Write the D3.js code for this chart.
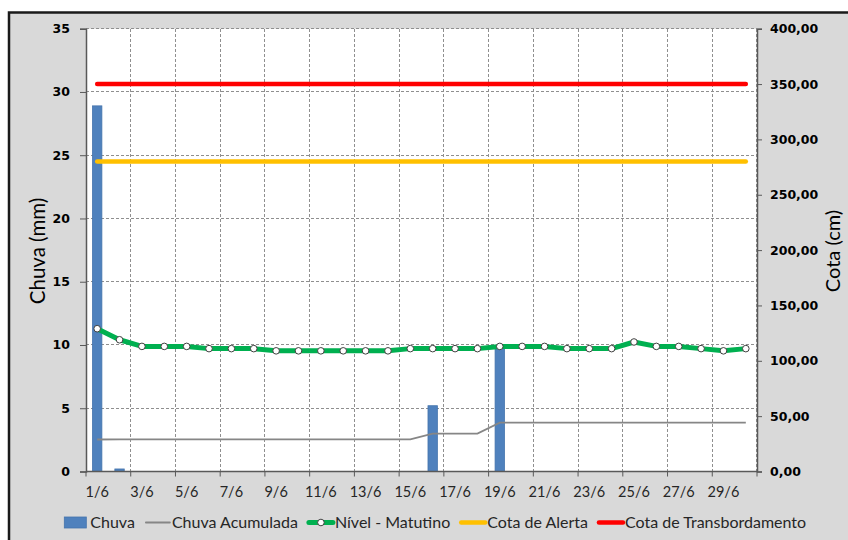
<!DOCTYPE html>
<html>
<head>
<meta charset="utf-8">
<script src="https://cdn.jsdelivr.net/npm/d3@7"></script>
<style>
  html, body { margin: 0; padding: 0; background: #fff; }
  svg { display: block; }
</style>
</head>
<body>
<svg id="chart" width="848" height="540"></svg>
<script>
// Daily rainfall and river level, June
const dias = ["1/6","2/6","3/6","4/6","5/6","6/6","7/6","8/6","9/6","10/6",
              "11/6","12/6","13/6","14/6","15/6","16/6","17/6","18/6","19/6","20/6",
              "21/6","22/6","23/6","24/6","25/6","26/6","27/6","28/6","29/6","30/6"];

const chuva = [28.9, 0.2, 0, 0, 0, 0, 0, 0, 0, 0,
               0, 0, 0, 0, 0, 5.2, 0, 0, 9.9, 0,
               0, 0, 0, 0, 0, 0, 0, 0, 0, 0];

const chuvaAcumulada = [28.9, 29.1, 29.1, 29.1, 29.1, 29.1, 29.1, 29.1, 29.1, 29.1,
                        29.1, 29.1, 29.1, 29.1, 29.1, 34.3, 34.3, 34.3, 44.2, 44.2,
                        44.2, 44.2, 44.2, 44.2, 44.2, 44.2, 44.2, 44.2, 44.2, 44.2];

const nivelMatutino = [129, 119, 113, 113, 113, 111, 111, 111, 109, 109,
                       109, 109, 109, 109, 111, 111, 111, 111, 113, 113,
                       113, 111, 111, 111, 117, 113, 113, 111, 109, 111];

const cotaAlerta = [280, 280, 280, 280, 280, 280, 280, 280, 280, 280,
                    280, 280, 280, 280, 280, 280, 280, 280, 280, 280,
                    280, 280, 280, 280, 280, 280, 280, 280, 280, 280];

const cotaTransbordamento = [350, 350, 350, 350, 350, 350, 350, 350, 350, 350,
                             350, 350, 350, 350, 350, 350, 350, 350, 350, 350,
                             350, 350, 350, 350, 350, 350, 350, 350, 350, 350];

const ticksChuva = [0, 5, 10, 15, 20, 25, 30, 35];
const ticksCota = [0, 50, 100, 150, 200, 250, 300, 350, 400];

const svg = d3.select("#chart");
const W = 848, H = 540;
const plot = { left: 86, right: 757, top: 28.7, bottom: 471.5 };

const labelFont = "Lato, 'Open Sans', sans-serif";
const tickFont = "'DejaVu Sans', Verdana, sans-serif";

// Chart area background and frame
svg.append("rect").attr("x", 0).attr("y", 0).attr("width", W).attr("height", H).attr("fill", "#fff");
svg.append("rect")
  .attr("x", 9).attr("y", 12.5).attr("width", W + 10).attr("height", H + 10)
  .attr("fill", "#d9d9d9").attr("stroke", "#1a1a1a").attr("stroke-width", 2.5);

// Scales
const x = d3.scaleBand().domain(dias).range([plot.left, plot.right]).paddingInner(0).paddingOuter(0);
const yChuva = d3.scaleLinear().domain([0, 35]).range([plot.bottom, plot.top]);
const yCota = d3.scaleLinear().domain([0, 400]).range([plot.bottom, plot.top]);
const cx = d => x(d) + x.bandwidth() / 2;

// Plot area
svg.append("rect")
  .attr("x", plot.left).attr("y", plot.top)
  .attr("width", plot.right - plot.left).attr("height", plot.bottom - plot.top)
  .attr("fill", "#fff");

// Gridlines
const grid = svg.append("g").attr("stroke", "#8f8f8f").attr("stroke-width", 1)
  .attr("stroke-dasharray", "3,2").attr("shape-rendering", "crispEdges");
grid.selectAll("line.h").data(ticksChuva.filter(t => t > 0)).join("line")
  .attr("class", "h")
  .attr("x1", plot.left).attr("x2", plot.right)
  .attr("y1", d => yChuva(d)).attr("y2", d => yChuva(d));
const vTicks = dias.filter((d, i) => i % 2 === 0 && i > 0);
grid.selectAll("line.v").data(vTicks).join("line")
  .attr("class", "v")
  .attr("x1", d => x(d)).attr("x2", d => x(d))
  .attr("y1", plot.top).attr("y2", plot.bottom);
grid.append("line").attr("x1", plot.right - 1).attr("x2", plot.right - 1)
  .attr("y1", plot.top).attr("y2", plot.bottom);

// Rain bars
const barW = 9.4;
svg.append("g").selectAll("rect").data(dias.map((d, i) => ({ d, v: chuva[i] })).filter(e => e.v > 0))
  .join("rect")
  .attr("x", e => cx(e.d) - barW / 2)
  .attr("y", e => yChuva(e.v))
  .attr("width", barW)
  .attr("height", e => yChuva(0) - yChuva(e.v))
  .attr("fill", "#4f81bd")
  .attr("stroke", "#4574ad").attr("stroke-width", 0.8);

// Lines on the cota (cm) axis
const lineCota = vals => d3.line().x((v, i) => cx(dias[i])).y(v => yCota(v))(vals);

svg.append("path").attr("d", lineCota(chuvaAcumulada))
  .attr("fill", "none").attr("stroke", "#868686").attr("stroke-width", 1.8);

svg.append("path").attr("d", lineCota(cotaAlerta))
  .attr("fill", "none").attr("stroke", "#ffc000").attr("stroke-width", 4.5).attr("stroke-linecap", "round");

svg.append("path").attr("d", lineCota(cotaTransbordamento))
  .attr("fill", "none").attr("stroke", "#ff0000").attr("stroke-width", 4.5).attr("stroke-linecap", "round");

svg.append("path").attr("d", lineCota(nivelMatutino))
  .attr("fill", "none").attr("stroke", "#00b050").attr("stroke-width", 5)
  .attr("stroke-linejoin", "round");

svg.append("g").selectAll("circle").data(nivelMatutino).join("circle")
  .attr("cx", (v, i) => cx(dias[i])).attr("cy", v => yCota(v)).attr("r", 3.3)
  .attr("fill", "#fff").attr("stroke", "#404040").attr("stroke-width", 1);

// Left axis (Chuva)
const axisLeft = svg.append("g").attr("transform", `translate(${plot.left},0)`)
  .call(d3.axisLeft(yChuva).tickValues(ticksChuva).tickSize(6).tickPadding(10).tickFormat(d3.format("d")));
axisLeft.select(".domain").attr("stroke", "#595959").attr("stroke-width", 1.5);
axisLeft.selectAll(".tick line").attr("stroke", "#595959");
axisLeft.selectAll(".tick text").attr("font-family", tickFont).attr("font-weight", "bold")
  .attr("font-size", 12.5).attr("fill", "#000");

// Right axis (Cota)
const fmtCota = v => d3.format(".2f")(v).replace(".", ",");
const axisRight = svg.append("g").attr("transform", `translate(${plot.right},0)`)
  .call(d3.axisRight(yCota).tickValues(ticksCota).tickSize(5).tickPadding(8).tickFormat(fmtCota));
axisRight.select(".domain").attr("stroke", "#595959").attr("stroke-width", 1.5);
axisRight.selectAll(".tick line").attr("stroke", "#595959");
axisRight.selectAll(".tick text").attr("font-family", tickFont).attr("font-weight", "bold")
  .attr("font-size", 12.5).attr("fill", "#000");

// Bottom axis (days)
const xAxisTicks = dias.filter((d, i) => i % 2 === 0);
const axisBottom = svg.append("g").attr("transform", `translate(0,${plot.bottom})`);
axisBottom.append("line").attr("x1", plot.left).attr("x2", plot.right)
  .attr("stroke", "#595959").attr("stroke-width", 1.5);
axisBottom.selectAll("line.t").data(dias.filter((d, i) => i % 2 === 0).concat(["end"])).join("line")
  .attr("class", "t")
  .attr("x1", d => d === "end" ? plot.right : x(d)).attr("x2", d => d === "end" ? plot.right : x(d))
  .attr("y1", 0).attr("y2", 5).attr("stroke", "#595959");
axisBottom.selectAll("text").data(xAxisTicks).join("text")
  .attr("x", d => cx(d)).attr("y", 25)
  .attr("text-anchor", "middle")
  .attr("font-family", labelFont).attr("font-size", 14.5).attr("fill", "#262626")
  .text(d => d);

// Axis titles
svg.append("text")
  .attr("transform", `translate(45,251) rotate(-90)`)
  .attr("text-anchor", "middle")
  .attr("font-family", labelFont).attr("font-size", 20.5).attr("fill", "#000")
  .text("Chuva (mm)");
svg.append("text")
  .attr("transform", `translate(840,251) rotate(-90)`)
  .attr("text-anchor", "middle")
  .attr("font-family", labelFont).attr("font-size", 20).attr("fill", "#000")
  .text("Cota (cm)");

// Legend
const legendItems = [
  { name: "Chuva", type: "bar", color: "#4f81bd" },
  { name: "Chuva Acumulada", type: "line", color: "#868686", width: 1.8 },
  { name: "Nível - Matutino", type: "marker", color: "#00b050", width: 5 },
  { name: "Cota de Alerta", type: "line", color: "#ffc000", width: 4.5 },
  { name: "Cota de Transbordamento", type: "line", color: "#ff0000", width: 4.5 }
];
const legend = svg.append("g");
const ly = 522.5;
const swatchW = 24, textGap = 2, itemGap = 11;
let lx = 0;
legendItems.forEach(item => {
  const g = legend.append("g").attr("transform", `translate(${lx},0)`);
  if (item.type === "bar") {
    g.append("rect").attr("x", 0).attr("y", ly - 5.5).attr("width", swatchW - 2).attr("height", 11)
      .attr("fill", item.color).attr("stroke", "#4574ad").attr("stroke-width", 0.8);
  } else {
    g.append("line").attr("x1", 0).attr("x2", swatchW).attr("y1", ly).attr("y2", ly)
      .attr("stroke", item.color).attr("stroke-width", item.width).attr("stroke-linecap", "round");
    if (item.type === "marker") {
      g.append("circle").attr("cx", swatchW / 2).attr("cy", ly).attr("r", 3.3)
        .attr("fill", "#fff").attr("stroke", "#404040").attr("stroke-width", 1);
    }
  }
  const t = g.append("text").attr("x", swatchW + textGap).attr("y", ly + 5.5)
    .attr("font-family", labelFont).attr("font-size", 16).attr("fill", "#262626")
    .text(item.name);
  lx += swatchW + textGap + t.node().getComputedTextLength() + itemGap;
});
const legendWidth = lx - itemGap;
legend.attr("transform", `translate(${435.2 - legendWidth / 2},0)`);
</script>
</body>
</html>
